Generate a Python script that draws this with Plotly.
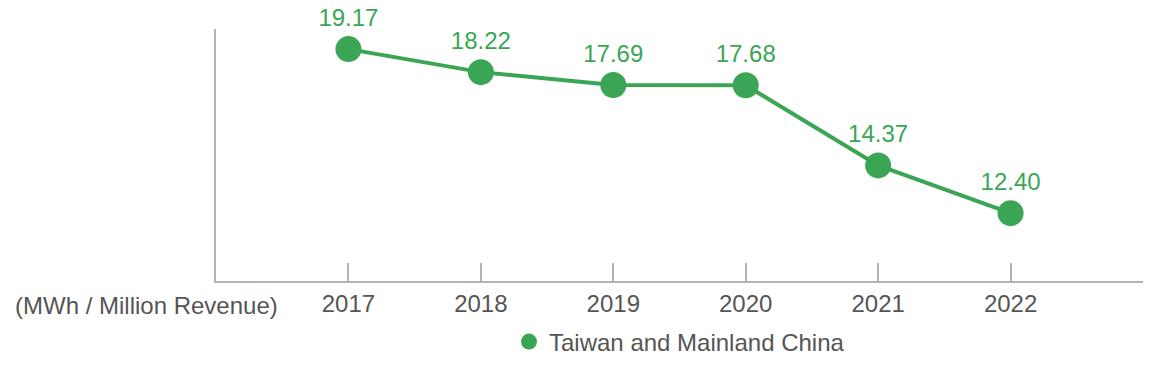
import plotly.graph_objects as go

years = [2017, 2018, 2019, 2020, 2021, 2022]
values = [19.17, 18.22, 17.69, 17.68, 14.37, 12.40]
labels = [f"{v:.2f}" for v in values]
series_name = "Taiwan and Mainland China"
unit_label = "(MWh / Million Revenue)"

green = "#3aa655"
axis_col = "#b3b3b3"
text_col = "#555555"
font_family = "Liberation Sans, Arial, sans-serif"
fs = 24

fig = go.Figure()
fig.add_trace(go.Scatter(
    x=years, y=values, mode="lines+markers+text",
    text=labels, textposition="top center",
    textfont=dict(color=green, size=fs, family=font_family),
    line=dict(color=green, width=4),
    marker=dict(color=green, size=26),
    showlegend=False, cliponaxis=False,
))
fig.add_trace(go.Scatter(
    x=[None], y=[None], mode="markers", name=series_name,
    marker=dict(color=green, size=20), showlegend=True,
))

fig.update_layout(
    width=1164, height=365,
    margin=dict(l=216, r=21, t=29, b=84, autoexpand=False),
    paper_bgcolor="white", plot_bgcolor="white",
    font=dict(family=font_family, size=fs, color=text_col),
    legend=dict(orientation="h", x=0.5, xanchor="center",
                yref="container", y=0.063, yanchor="middle",
                font=dict(size=fs, color=text_col), itemsizing="trace"),
    annotations=[dict(text=unit_label, xref="paper", yref="paper",
                      x=0.069, y=-0.096, xanchor="right", yanchor="middle",
                      showarrow=False, font=dict(size=fs, color=text_col))],
)
fig.update_xaxes(
    range=[years[0] - 1, years[-1] + 1],
    tickvals=years + [years[-1] + 1],
    ticktext=[str(y) for y in years] + [""],
    ticks="inside", ticklen=18, tickwidth=2, tickcolor=axis_col,
    showline=True, linecolor=axis_col, linewidth=2,
    showgrid=False, zeroline=False, automargin=False,
    tickfont=dict(size=fs, color=text_col),
)
fig.update_yaxes(
    range=[9.6, 20.0], showline=True, linecolor=axis_col, linewidth=2,
    showticklabels=False, ticks="", showgrid=False, zeroline=False,
)

fig.write_html("out.html", config={"displayModeBar": False},
               post_script="document.body.style.margin='0';")
